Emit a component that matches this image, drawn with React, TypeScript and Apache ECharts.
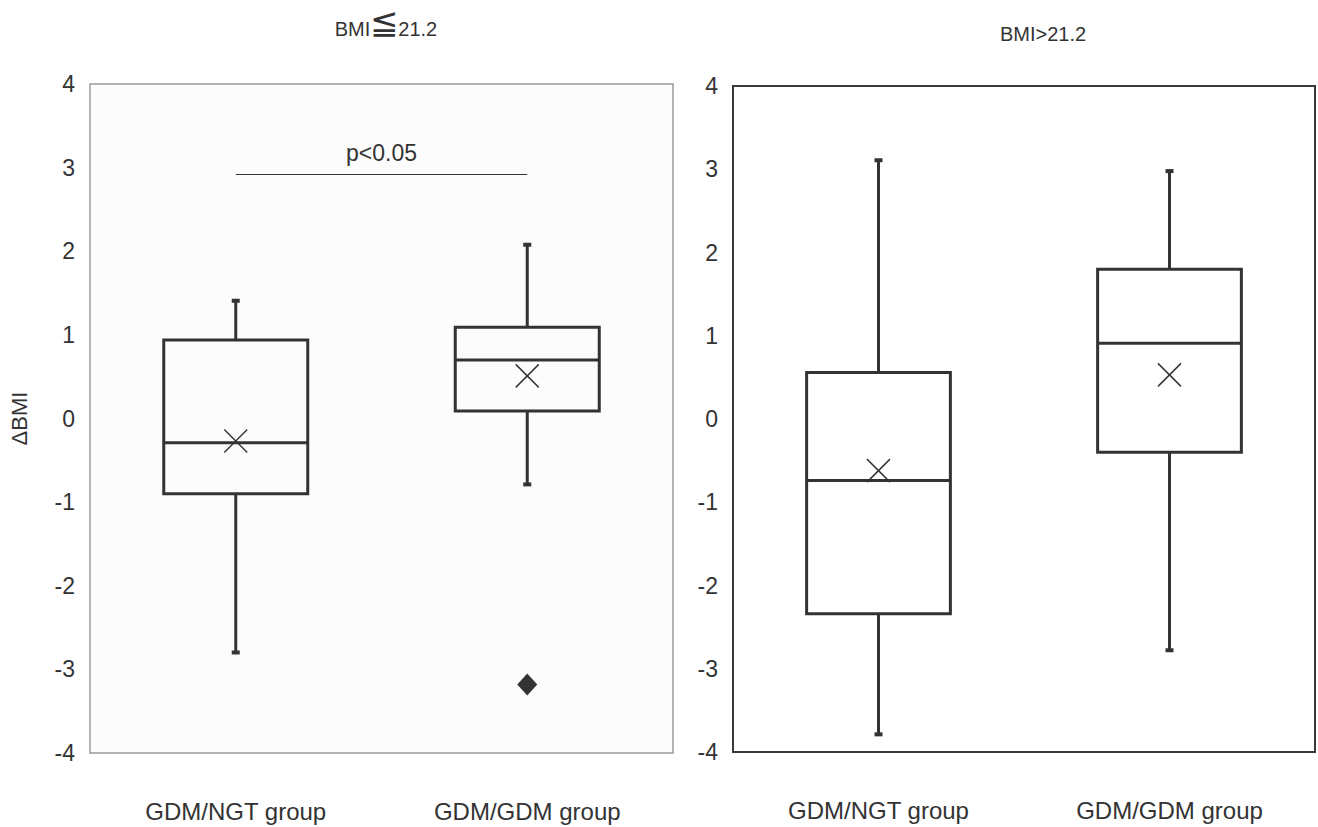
import React, { useEffect, useRef } from "react";
import * as echarts from "echarts";

const categories = ["GDM/NGT group", "GDM/GDM group"];
// [min, Q1, median, Q3, max]
const leftBoxes = [
  [-2.81, -0.9, -0.29, 0.94, 1.42],
  [-0.8, 0.09, 0.7, 1.09, 2.09],
];
const leftMeans = [-0.27, 0.51];
const leftOutliers = [[1, -3.18]];
const rightBoxes = [
  [-3.8, -2.34, -0.74, 0.56, 3.12],
  [-2.79, -0.4, 0.91, 1.8, 2.99],
];
const rightMeans = [-0.62, 0.53];
const yMin = -4;
const yMax = 4;
const yInterval = 1;
const sigFrom = 0;
const sigTo = 1;
const sigY = 2.92;
const sigLabel = "p<0.05";
const rightTitle = "BMI>21.2";
const yName = "ΔBMI";

const INK = "#333333";
const FONT = "Liberation Sans, Arial, sans-serif";

function boxData(boxes: number[][], means: number[]) {
  return boxes.map((b, i) => [i, ...b, means[i]]);
}

function renderBox(params: any, api: any) {
  const x = api.value(0);
  const mn = api.value(1);
  const q1 = api.value(2);
  const md = api.value(3);
  const q3 = api.value(4);
  const mx = api.value(5);
  const mean = api.value(6);
  const cx = api.coord([x, md])[0];
  const yMn = api.coord([x, mn])[1];
  const yQ1 = api.coord([x, q1])[1];
  const yMd = api.coord([x, md])[1];
  const yQ3 = api.coord([x, q3])[1];
  const yMx = api.coord([x, mx])[1];
  const yMean = api.coord([x, mean])[1];
  const half = api.size([1, 0])[0] * 0.247;
  const lw = 3;
  const xs = 11.5;
  return {
    type: "group",
    children: [
      { type: "line", shape: { x1: cx, y1: yMx, x2: cx, y2: yQ3 }, style: { stroke: INK, lineWidth: lw } },
      { type: "line", shape: { x1: cx, y1: yQ1, x2: cx, y2: yMn }, style: { stroke: INK, lineWidth: lw } },
      { type: "rect", shape: { x: cx - 4, y: yMx - 1, width: 8, height: 4 }, style: { fill: INK } },
      { type: "rect", shape: { x: cx - 4, y: yMn - 3, width: 8, height: 4 }, style: { fill: INK } },
      {
        type: "rect",
        shape: { x: cx - half, y: yQ3, width: half * 2, height: yQ1 - yQ3 },
        style: { fill: "none", stroke: INK, lineWidth: lw },
      },
      { type: "line", shape: { x1: cx - half, y1: yMd, x2: cx + half, y2: yMd }, style: { stroke: INK, lineWidth: lw } },
      { type: "line", shape: { x1: cx - xs, y1: yMean - xs, x2: cx + xs, y2: yMean + xs }, style: { stroke: INK, lineWidth: 1.5 } },
      { type: "line", shape: { x1: cx - xs, y1: yMean + xs, x2: cx + xs, y2: yMean - xs }, style: { stroke: INK, lineWidth: 1.5 } },
    ],
  };
}

export default function App() {
  const ref = useRef<HTMLDivElement>(null);
  useEffect(() => {
    if (!ref.current) return;
    const chart = echarts.init(ref.current, undefined, { renderer: "svg" });
    const xAxisBase = {
      type: "category",
      data: categories,
      axisLine: { show: false },
      axisTick: { show: false },
      axisLabel: { color: INK, fontSize: 24, fontFamily: FONT, margin: 46 },
    };
    const yAxisBase = {
      type: "value",
      min: yMin,
      max: yMax,
      interval: yInterval,
      axisLine: { show: false },
      axisTick: { show: false },
      splitLine: { show: false },
      axisLabel: { color: INK, fontSize: 23, fontFamily: FONT, margin: 15 },
    };
    chart.setOption({
      animation: false,
      backgroundColor: "#ffffff",
      title: [
        {
          text: "{a|BMI}{b|≦}{a|21.2}",
          left: 381,
          top: 0,
          textAlign: "center",
          textStyle: {
            fontWeight: "normal",
            rich: {
              a: { fontSize: 20, color: INK, fontFamily: FONT, fontWeight: "normal", verticalAlign: "bottom" },
              b: { fontSize: 34, color: INK, fontFamily: FONT, fontWeight: "normal", verticalAlign: "bottom" },
            },
          },
        },
        {
          text: rightTitle,
          left: 1038,
          top: 19,
          textAlign: "center",
          textStyle: { fontSize: 20, fontWeight: "normal", color: INK, fontFamily: FONT },
        },
      ],
      grid: [
        {
          left: 90,
          top: 84,
          width: 583,
          height: 669,
          show: true,
          borderColor: "#9a9a9a",
          borderWidth: 1.5,
          backgroundColor: "#fcfcfc",
        },
        {
          left: 733,
          top: 86,
          width: 582,
          height: 666,
          show: true,
          borderColor: "#3a3a3a",
          borderWidth: 2,
          backgroundColor: "#ffffff",
        },
      ],
      xAxis: [
        { ...xAxisBase, gridIndex: 0 },
        { ...xAxisBase, gridIndex: 1 },
      ],
      yAxis: [
        {
          ...yAxisBase,
          gridIndex: 0,
          name: yName,
          nameLocation: "middle",
          nameGap: 60,
          nameTextStyle: { color: INK, fontSize: 22, fontFamily: FONT },
        },
        { ...yAxisBase, gridIndex: 1 },
      ],
      series: [
        {
          type: "custom",
          xAxisIndex: 0,
          yAxisIndex: 0,
          renderItem: renderBox,
          encode: { x: 0, y: [1, 2, 3, 4, 5] },
          data: boxData(leftBoxes, leftMeans),
          z: 5,
          markLine: {
            silent: true,
            symbol: "none",
            lineStyle: { color: INK, width: 1.2, type: "solid" },
            label: {
              show: true,
              position: "middle",
              formatter: sigLabel,
              color: INK,
              fontSize: 23,
              fontFamily: FONT,
              distance: 10,
            },
            data: [
              [
                { coord: [sigFrom, sigY] },
                { coord: [sigTo, sigY] },
              ],
            ],
          },
        },
        {
          type: "scatter",
          xAxisIndex: 0,
          yAxisIndex: 0,
          symbol: "diamond",
          symbolSize: [20, 22],
          itemStyle: { color: INK, opacity: 1 },
          data: leftOutliers,
          z: 6,
        },
        {
          type: "custom",
          xAxisIndex: 1,
          yAxisIndex: 1,
          renderItem: renderBox,
          encode: { x: 0, y: [1, 2, 3, 4, 5] },
          data: boxData(rightBoxes, rightMeans),
          z: 5,
        },
      ],
    });
    return () => chart.dispose();
  }, []);
  return (
    <div
      ref={ref}
      style={{ position: "absolute", left: 0, top: 0, width: 1318, height: 827 }}
    />
  );
}
